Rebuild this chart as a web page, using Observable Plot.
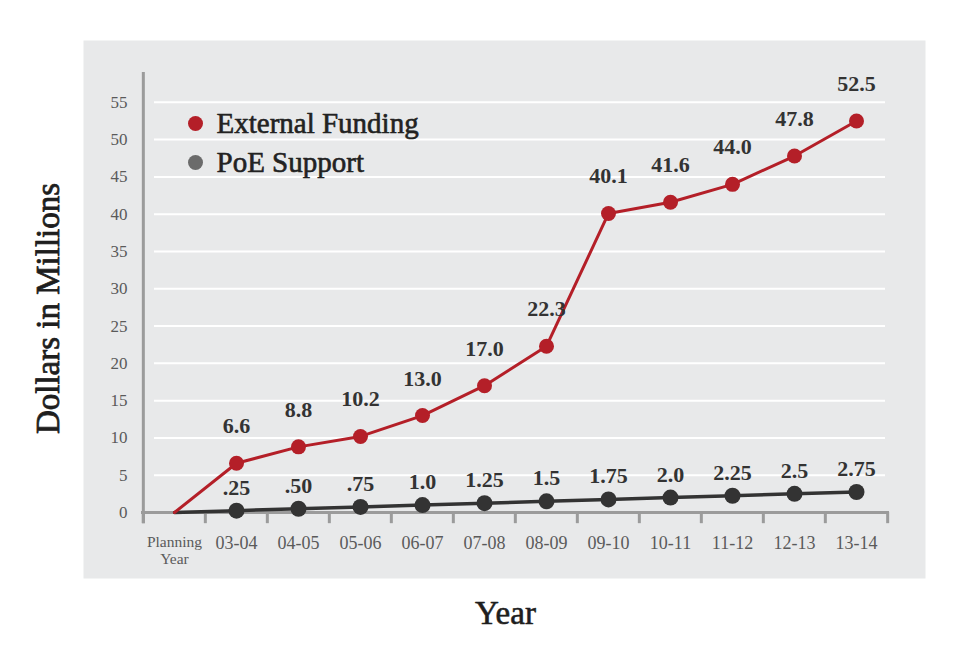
<!DOCTYPE html>
<html>
<head>
<meta charset="utf-8">
<script src="https://cdn.jsdelivr.net/npm/d3@7"></script>
<script src="https://cdn.jsdelivr.net/npm/@observablehq/plot@0.6"></script>
<style>
  html, body { margin: 0; padding: 0; background: #ffffff; }
  #chart svg { display: block; }
</style>
</head>
<body>
<div id="chart"></div>
<script>
// ---- data ----
const years = ["Planning Year", "03-04", "04-05", "05-06", "06-07", "07-08", "08-09", "09-10", "10-11", "11-12", "12-13", "13-14"];
const externalFunding = [0, 6.6, 8.8, 10.2, 13.0, 17.0, 22.3, 40.1, 41.6, 44.0, 47.8, 52.5];
const poeSupport = [0, 0.25, 0.50, 0.75, 1.0, 1.25, 1.5, 1.75, 2.0, 2.25, 2.5, 2.75];
const externalLabels = ["", "6.6", "8.8", "10.2", "13.0", "17.0", "22.3", "40.1", "41.6", "44.0", "47.8", "52.5"];
const poeLabels = ["", ".25", ".50", ".75", "1.0", "1.25", "1.5", "1.75", "2.0", "2.25", "2.5", "2.75"];
const seriesNames = ["External Funding", "PoE Support"];
const yTicks = [0, 5, 10, 15, 20, 25, 30, 35, 40, 45, 50, 55];
const gridTicks = [5, 10, 15, 20, 25, 30, 35, 40, 45, 50, 55];
const yTitle = "Dollars in Millions";
const xTitle = "Year";

// ---- tables ----
const ext = years.map((year, i) => ({year, value: externalFunding[i], label: externalLabels[i]}));
const poe = years.map((year, i) => ({year, value: poeSupport[i], label: poeLabels[i]}));
const extDots = ext.filter(d => d.label !== "");
const poeDots = poe.filter(d => d.label !== "");

const W = 975, H = 650;
const mL = 141, mR = 86, mT = 72, mB = 138;
const half = (W - mL - mR) / years.length / 2;

const RED = "#b41f28";
const DARK = "#333333";
const AXIS = "#9b9b9b";
const TITLE = "#1e1e1e";
const SERIF = "'Liberation Serif', 'DejaVu Serif', serif";

const chart = Plot.plot({
  width: W,
  height: H,
  marginLeft: mL,
  marginRight: mR,
  marginTop: mT,
  marginBottom: mB,
  style: {background: "#ffffff", fontFamily: SERIF},
  x: {type: "band", domain: years, padding: 0, axis: null},
  y: {domain: [0, 59], axis: null},
  marks: [
    // grey panel
    Plot.frame({fill: "#e8e9ea", stroke: null, insetLeft: -58, insetTop: -32, insetRight: -36, insetBottom: -66}),
    // white grid
    Plot.ruleY(gridTicks, {stroke: "#ffffff", strokeWidth: 2, insetLeft: 13, insetRight: 4}),
    // y tick labels
    Plot.text(yTicks, {y: d => d, text: d => String(d), frameAnchor: "left", textAnchor: "end", lineAnchor: "middle", dx: -14, fontSize: 17, fill: "#5a5a5a"}),
    // x axis baseline
    Plot.ruleY([0], {stroke: AXIS, strokeWidth: 3}),
    // boundary tick marks
    Plot.ruleX(years, {x: d => d, dx: -half, y1: 0, y2: -1.5, stroke: AXIS, strokeWidth: 3}),
    Plot.ruleX(years.slice(-1), {x: d => d, dx: half, y1: 0, y2: -1.5, stroke: AXIS, strokeWidth: 3}),
    // y axis line
    Plot.ruleX(years.slice(0, 1), {x: d => d, dx: -half, y1: -1.5, y2: 59, stroke: AXIS, strokeWidth: 3}),
    // x tick labels
    Plot.text(years, {
      x: d => d,
      text: d => d === "Planning Year" ? "Planning\nYear" : d,
      frameAnchor: "bottom",
      lineAnchor: "top",
      dy: 22,
      fontSize: d => d === "Planning Year" ? 15.5 : 18,
      lineHeight: 1.1,
      fill: "#5a5a5a"
    }),
    // series lines
    Plot.line(poe, {x: "year", y: "value", stroke: DARK, strokeWidth: 3.5}),
    Plot.line(ext, {x: "year", y: "value", stroke: RED, strokeWidth: 3}),
    Plot.dot(poeDots, {x: "year", y: "value", r: 8, fill: DARK}),
    Plot.dot(extDots, {x: "year", y: "value", r: 7.5, fill: RED}),
    // value labels
    Plot.text(poeDots, {x: "year", y: "value", text: "label", lineAnchor: "bottom", dy: -16, fontSize: 22, fontWeight: "bold", fill: DARK}),
    Plot.text(extDots, {x: "year", y: "value", text: "label", lineAnchor: "bottom", dy: -30, fontSize: 22, fontWeight: "bold", fill: DARK}),
    // legend
    Plot.dot(seriesNames.slice(0, 1), {frameAnchor: "top-left", dx: 54, dy: 51, r: 7.5, fill: RED}),
    Plot.dot(seriesNames.slice(1, 2), {frameAnchor: "top-left", dx: 54, dy: 90, r: 7.5, fill: "#6b6b6b"}),
    Plot.text(seriesNames.slice(0, 1), {text: d => d, frameAnchor: "top-left", textAnchor: "start", lineAnchor: "middle", dx: 75, dy: 51, fontSize: 29, fill: "#222222", stroke: "#222222", strokeWidth: 0.6}),
    Plot.text(seriesNames.slice(1, 2), {text: d => d, frameAnchor: "top-left", textAnchor: "start", lineAnchor: "middle", dx: 75, dy: 90, fontSize: 29, fill: "#222222", stroke: "#222222", strokeWidth: 0.6}),
    // axis titles
    Plot.text([yTitle], {text: d => d, frameAnchor: "left", textAnchor: "middle", lineAnchor: "middle", rotate: -90, dx: -93, dy: 16, fontSize: 33, fill: TITLE, stroke: TITLE, strokeWidth: 0.8}),
    Plot.text([xTitle], {text: d => d, frameAnchor: "bottom", textAnchor: "middle", lineAnchor: "middle", dx: -10, dy: 101, fontSize: 33, fill: TITLE, stroke: TITLE, strokeWidth: 0.6})
  ]
});

document.getElementById("chart").appendChild(chart);
</script>
</body>
</html>
